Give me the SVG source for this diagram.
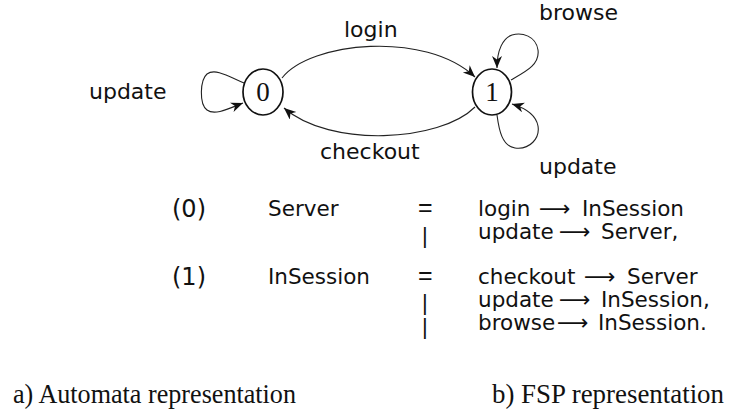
<svg xmlns="http://www.w3.org/2000/svg" width="739" height="414" viewBox="0 0 739 414">
<style>
.lbl{font-family:"DejaVu Sans","Liberation Sans",sans-serif;font-size:22px;fill:#111}
.fsp{font-family:"DejaVu Sans","Liberation Sans",sans-serif;font-size:21.5px;fill:#111}
.par{font-size:24px}
.ar{font-family:"DejaVu Sans","Noto Sans",sans-serif;font-size:22px}
.op{font-family:"Liberation Sans","DejaVu Sans",sans-serif;font-size:25px;fill:#111}
.bar{font-family:"Liberation Sans","DejaVu Sans",sans-serif;font-size:22px;fill:#111}
.num{font-family:"Liberation Serif","DejaVu Serif",serif;font-size:27px;fill:#111}
.cap{font-family:"Liberation Serif","DejaVu Serif",serif;font-size:27px;fill:#111}
.edge{fill:none;stroke:#222;stroke-width:1.1;marker-end:url(#ah)}
.state{fill:#fff;stroke:#111;stroke-width:1.7}
</style>
<defs>
<marker id="ah" markerUnits="userSpaceOnUse" markerWidth="14" markerHeight="12" refX="12" refY="5" orient="auto">
<path d="M0,0 L12,5 L0,10 L3.5,5 z" fill="#111"/>
</marker>
</defs>
<g id="connectors">
<path class="edge" d="M282,78 C310,42 425,30 475,77"/>
<path class="edge" d="M475,107 C440,142 330,148 284,108"/>
<path class="edge" d="M244,83 C228,76 215,68 207,74 C200,80 199,104 207,110 C215,116 230,108 243,103"/>
<path class="edge" d="M511,80 C525,72 540,65 538,50 C536,36 522,32 512,35 C503,38 497,50 497,68"/>
<path class="edge" d="M497,115 C499,130 502,146 515,148 C530,150 540,138 538,126 C536,115 525,108 512,104"/>
</g>
<g id="node0">
<ellipse class="state" cx="263" cy="92" rx="20" ry="23"/>
<text class="num" x="263" y="101" text-anchor="middle">0</text>
</g>
<g id="node1">
<ellipse class="state" cx="492" cy="92" rx="19.5" ry="23"/>
<text class="num" x="492" y="101" text-anchor="middle">1</text>
</g>
<g id="edge-labels">
<text class="lbl" x="89" y="99">update</text>
<text class="lbl" x="344" y="37">login</text>
<text class="lbl" x="539" y="20">browse</text>
<text class="lbl" x="320" y="159">checkout</text>
<text class="lbl" x="539" y="174">update</text>
</g>
<g id="fsp">
<text class="fsp par" x="172" y="217">(0)</text>
<text class="fsp" x="268" y="216">Server</text>
<text class="op" x="418" y="216">=</text>
<text class="fsp" x="478" y="216">login<tspan class="ar" x="539">⟶</tspan><tspan x="582">InSession</tspan></text>
<text class="bar" x="422" y="243">|</text>
<text class="fsp" x="478" y="239">update<tspan class="ar" x="559">⟶</tspan><tspan x="601">Server,</tspan></text>
<text class="fsp par" x="172" y="285">(1)</text>
<text class="fsp" x="268" y="284">InSession</text>
<text class="op" x="418" y="284">=</text>
<text class="fsp" x="478" y="284">checkout<tspan class="ar" x="584">⟶</tspan><tspan x="627">Server</tspan></text>
<text class="bar" x="422" y="310">|</text>
<text class="fsp" x="478" y="307">update<tspan class="ar" x="559">⟶</tspan><tspan x="601">InSession,</tspan></text>
<text class="bar" x="422" y="334">|</text>
<text class="fsp" x="478" y="330">browse<tspan class="ar" x="557">⟶</tspan><tspan x="598">InSession.</tspan></text>
</g>
<g id="captions">
<text class="cap" x="13" y="403" textLength="283" lengthAdjust="spacingAndGlyphs">a) Automata representation</text>
<text class="cap" x="492" y="403" textLength="232" lengthAdjust="spacingAndGlyphs">b) FSP representation</text>
</g>
</svg>
